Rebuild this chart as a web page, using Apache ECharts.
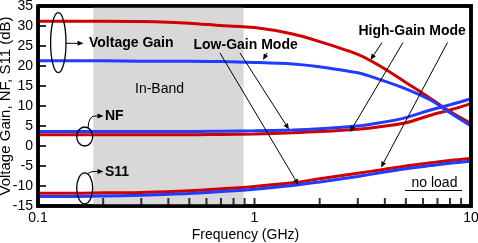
<!DOCTYPE html>
<html>
<head>
<meta charset="utf-8">
<script src="https://cdn.jsdelivr.net/npm/echarts@6/dist/echarts.min.js"></script>
<style>
html, body { margin: 0; padding: 0; background: #fff; }
#chart { width: 478px; height: 243px; }
</style>
</head>
<body>
<div id="chart"></div>
<script>
// frequency points (GHz)
const freq = [0.1, 0.15, 0.2, 0.3, 0.5, 0.7, 1, 1.5, 2, 3, 3.8, 5, 6.5, 8, 10];
// high-gain mode (red)
const gainHigh = [31.2, 31.2, 31.2, 31.1, 30.7, 30.1, 29.6, 28.0, 26.1, 22.9, 20.0, 15.9, 11.9, 8.6, 5.6];
const nfHigh = [2.8, 2.8, 2.8, 2.8, 2.8, 2.9, 3.0, 3.3, 3.6, 4.2, 4.8, 5.8, 7.7, 9.0, 10.6];
const s11High = [-11.8, -11.8, -11.7, -11.6, -11.2, -10.7, -10.1, -9.2, -8.2, -6.8, -6.0, -5.0, -4.2, -3.6, -3.1];
// low-gain mode (blue)
const gainLow = [21.3, 21.3, 21.3, 21.2, 21.2, 21.1, 20.9, 20.5, 19.8, 18.3, 16.6, 14.3, 11.5, 8.3, 5.0];
const nfLow = [3.6, 3.6, 3.6, 3.6, 3.6, 3.7, 3.8, 4.0, 4.3, 5.0, 5.8, 7.1, 9.0, 10.3, 11.8];
const s11Low = [-12.6, -12.6, -12.5, -12.3, -11.9, -11.4, -10.8, -9.9, -9.0, -7.6, -6.7, -5.7, -4.9, -4.3, -3.8];
// in-band region (GHz)
const inBand = [0.18, 0.89];
// minor ticks on the frequency axis
const freqTicks = [0.2, 0.3, 0.4, 0.5, 0.6, 0.7, 0.8, 0.9, 1, 2, 3, 4, 5, 6, 7, 8, 9];
// ticks on the dB axis
const dbTicks = [-10, -5, 0, 5, 10, 15, 20, 25, 30];

const RED = "#d10000";
const BLUE = "#1f3cff";
const FONT = "Liberation Sans";

function pts(ys) {
  return freq.map((f, i) => [f, ys[i]]);
}

function curve(name, ys, color) {
  return {
    name: name,
    type: "line",
    smooth: 0.3,
    symbol: "none",
    lineStyle: { color: color, width: 3 },
    data: pts(ys)
  };
}

function seg(x1, y1, x2, y2, w) {
  return { type: "line", z: 100, shape: { x1: x1, y1: y1, x2: x2, y2: y2 }, style: { stroke: "#000", lineWidth: w } };
}

// small arrow: thin line + filled head
function arrow(x1, y1, x2, y2) {
  const a = Math.atan2(y2 - y1, x2 - x1);
  const L = 6, W = 2.5;
  const bx = x2 - L * Math.cos(a), by = y2 - L * Math.sin(a);
  const px = -Math.sin(a) * W, py = Math.cos(a) * W;
  return [
    seg(x1, y1, bx, by, 1),
    { type: "polygon", z: 100, shape: { points: [[x2, y2], [bx + px, by + py], [bx - px, by - py]] }, style: { fill: "#000" } }
  ];
}

function label(text, x, y, bold) {
  return {
    type: "text", z: 100, x: x, y: y,
    style: {
      text: text, fill: "#000", fontFamily: FONT, fontSize: 14,
      fontWeight: bold ? "bold" : "normal", verticalAlign: "middle"
    }
  };
}

function ellipse(cx, cy, rx, ry) {
  return {
    type: "ellipse", z: 100,
    shape: { cx: cx, cy: cy, rx: rx, ry: ry },
    style: { fill: "rgba(0,0,0,0)", stroke: "#000", lineWidth: 1.3 }
  };
}

function hook(x1, y1, x2, y2) {
  return {
    type: "bezierCurve", z: 100,
    shape: { x1: x1, y1: y1, x2: x2, y2: y2, cpx1: x1 + 0.5, cpy1: y2 },
    style: { stroke: "#000", lineWidth: 1, fill: null }
  };
}

const graphics = [
  ellipse(58.3, 42.7, 7.7, 30),
  ellipse(84.7, 136.5, 8, 9.5),
  ellipse(84.7, 188.3, 8, 15.5),
  hook(88, 128, 95, 116),
  hook(88, 174.5, 95, 171.5),
  label("Voltage Gain", 89, 43.5, true),
  label("NF", 105, 116.5, true),
  label("S11", 105, 172.5, true),
  label("In-Band", 135, 89.5, false),
  label("Low-Gain Mode", 193.5, 45, true),
  label("High-Gain Mode", 358.5, 31, true),
  label("no load", 411.5, 183, false),
  seg(405, 190.5, 462, 190.5, 1.2)
].concat(
  arrow(66, 43.3, 83.5, 43.3),
  arrow(95, 116, 103.5, 116),
  arrow(95, 171.5, 103.5, 171.5),
  arrow(267, 53, 263, 60),
  arrow(240, 53, 289, 129.5),
  arrow(220, 53, 298.5, 185),
  arrow(382, 42.5, 370.5, 60),
  arrow(403, 42.5, 350, 132),
  arrow(447.5, 42.5, 381, 167.5),
  [{ type: "polyline", z: 100,
     shape: { points: [[38, 6], [471, 6], [471, 206], [38, 206], [38, 6]] },
     style: { stroke: "#000", lineWidth: 3.5, fill: null, lineJoin: "miter" } }]
);

const chart = echarts.init(document.getElementById("chart"));
chart.setOption({
  animation: false,
  textStyle: { fontFamily: FONT },
  grid: {
    left: 38, right: 7, top: 6, bottom: 37, outerBoundsMode: "none", containLabel: false,
    show: true, borderColor: "#000", borderWidth: 3.5, backgroundColor: "rgba(0,0,0,0)"
  },
  xAxis: {
    type: "log",
    logBase: 10,
    min: 0.1,
    max: 10,
    name: "Frequency (GHz)",
    nameLocation: "middle",
    nameGap: 22,
    nameMoveOverlap: false,
    nameTextStyle: { color: "#000", fontSize: 14, fontFamily: FONT, padding: [0, 18, 0, 0] },
    axisLine: { show: false },
    axisTick: { show: false },
    splitLine: { show: false },
    minorTick: { show: false },
    axisLabel: {
      color: "#000", fontSize: 14, fontFamily: FONT, margin: 5,
      formatter: v => String(+v.toPrecision(3))
    }
  },
  yAxis: {
    type: "value",
    min: -15,
    max: 35,
    interval: 5,
    name: "Voltage Gain, NF, S11 (dB)",
    nameLocation: "middle",
    nameGap: 25,
    nameMoveOverlap: false,
    nameTextStyle: { color: "#000", fontSize: 15, fontFamily: FONT },
    axisLine: { show: false },
    axisTick: { show: false },
    splitLine: { show: false },
    axisLabel: { color: "#000", fontSize: 14, fontFamily: FONT, margin: 5 }
  },
  graphic: graphics,
  series: [
    {
      type: "scatter",
      silent: true,
      clip: false,
      symbol: "rect",
      symbolSize: [2, 8],
      symbolOffset: [0, -4],
      itemStyle: { color: "#000" },
      data: freqTicks.map(f => [f, -15]),
      markArea: {
        silent: true,
        itemStyle: { color: "#d8d8d8" },
        data: [[{ xAxis: inBand[0] }, { xAxis: inBand[1] }]]
      }
    },
    {
      type: "scatter",
      silent: true,
      clip: false,
      symbol: "rect",
      symbolSize: [8, 2],
      symbolOffset: [4, 0],
      itemStyle: { color: "#000" },
      data: dbTicks.map(v => [0.1, v])
    },
    curve("Gain high", gainHigh, RED),
    curve("NF high", nfHigh, RED),
    curve("S11 high", s11High, RED),
    curve("Gain low", gainLow, BLUE),
    curve("NF low", nfLow, BLUE),
    curve("S11 low", s11Low, BLUE)
  ]
});
</script>
</body>
</html>
